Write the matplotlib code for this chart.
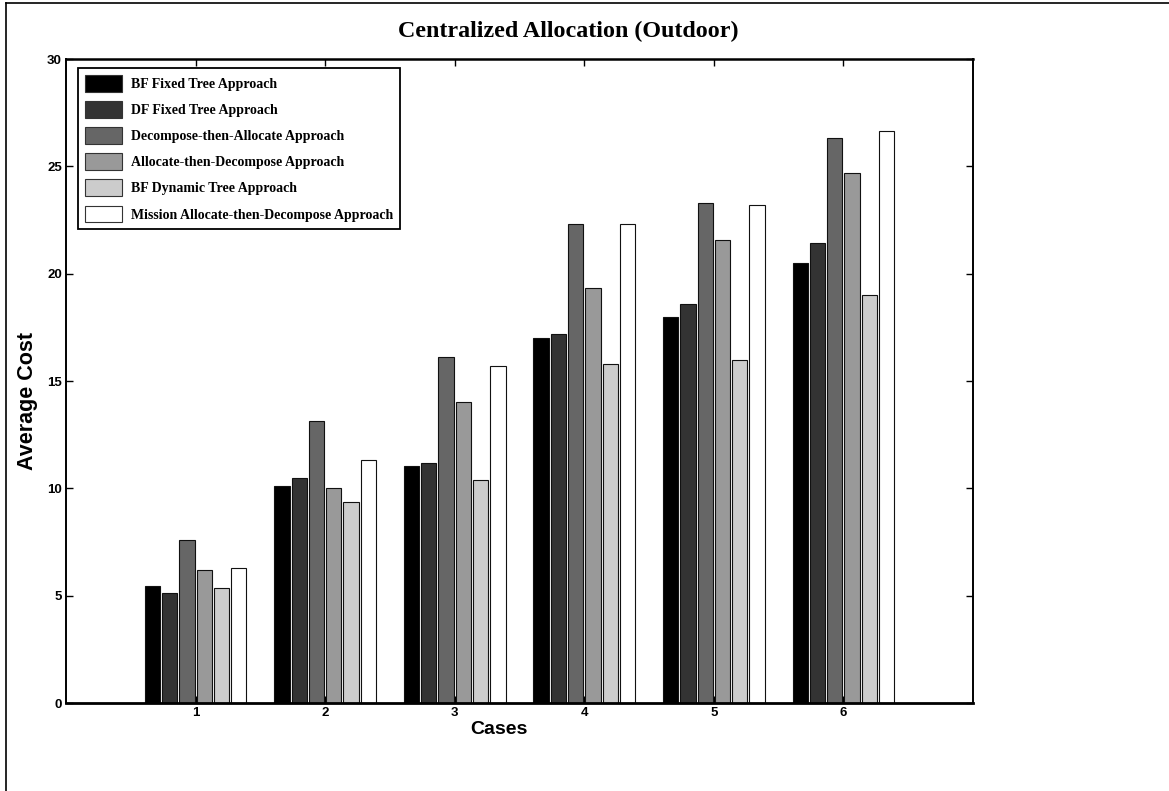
import matplotlib
matplotlib.use("Agg")
import matplotlib.pyplot as plt
import numpy as np
from matplotlib.lines import Line2D

cases = ["1", "2", "3", "4", "5", "6"]
series_names = [
    "BF Fixed Tree Approach",
    "DF Fixed Tree Approach",
    "Decompose-then-Allocate Approach",
    "Allocate-then-Decompose Approach",
    "BF Dynamic Tree Approach",
    "Mission Allocate-then-Decompose Approach",
]
bf_fixed = [5.45, 10.12, 11.02, 17.0, 18.0, 20.5]
df_fixed = [5.14, 10.5, 11.2, 17.2, 18.6, 21.45]
decomp_alloc = [7.59, 13.13, 16.1, 22.3, 23.3, 26.3]
alloc_decomp = [6.19, 10.0, 14.0, 19.35, 21.55, 24.7]
bf_dynamic = [5.36, 9.38, 10.4, 15.8, 16.0, 19.0]
mission_ad = [6.3, 11.3, 15.68, 22.3, 23.2, 26.65]
series_values = [bf_fixed, df_fixed, decomp_alloc, alloc_decomp, bf_dynamic, mission_ad]
colors = ["#000000", "#333333", "#666666", "#999999", "#cccccc", "#ffffff"]
yticks = [0, 5, 10, 15, 20, 25, 30]

W, H = 1169, 791
fig = plt.figure(figsize=(W / 100, H / 100), dpi=100)

def px_axes(l, t, r, b):
    return [l / W, 1 - b / H, (r - l) / W, (b - t) / H]

ax = fig.add_axes(px_axes(66, 59, 973, 703))
x = np.arange(1, len(cases) + 1)
n = len(series_values)
pitch = 0.8 / n
bw = 0.118
for i, (vals, c, name) in enumerate(zip(series_values, colors, series_names)):
    ax.bar(x + (i - (n - 1) / 2) * pitch, vals, width=bw, color=c,
           edgecolor="#111111", linewidth=0.8, label=name, zorder=2)

ax.set_xlim(0, 7)
ax.set_ylim(0, 30)
ax.set_xticks(x)
ax.set_xticklabels(cases)
ax.set_yticks(yticks)
ax.set_yticklabels([str(v) for v in yticks])
ax.tick_params(direction="in", length=5, width=1.0, top=True, right=True,
               labelsize=9.5, pad=3)
for lab in ax.get_xticklabels() + ax.get_yticklabels():
    lab.set_fontweight("bold")
    lab.set_fontfamily("Liberation Sans")
for sp in ax.spines.values():
    sp.set_linewidth(1.4)
ax.spines["bottom"].set_linewidth(2.0)
ax.spines["top"].set_linewidth(1.8)

leg = ax.legend(loc="upper left", bbox_to_anchor=(0.0132, 0.986),
                borderaxespad=0, frameon=True, fancybox=False,
                edgecolor="black", framealpha=1,
                prop={"family": "Liberation Serif", "weight": "bold", "size": 10},
                handlelength=2.7, handleheight=1.5, labelspacing=0.66,
                handletextpad=0.6, borderpad=0.5)
leg.get_frame().set_linewidth(1.3)
for p in leg.get_patches():
    p.set_edgecolor("#333333")

fig.text(568 / W, 1 - 31 / H, "Centralized Allocation (Outdoor)",
         ha="center", va="center", fontsize=17.3, fontweight="bold",
         family="Liberation Serif")
fig.text(499 / W, 1 - 729 / H, "Cases", ha="center", va="center",
         fontsize=14, fontweight="bold", family="Liberation Sans")
fig.text(28 / W, 1 - 401 / H, "Average Cost", ha="center", va="center",
         rotation=90, fontsize=15.5, fontweight="bold", family="Liberation Sans")

# figure frame (left and top edges)
fig.add_artist(Line2D([6 / W, 6 / W], [0, 1 - 3 / H], transform=fig.transFigure,
                      color="black", linewidth=1.2))
fig.add_artist(Line2D([6 / W, 1], [1 - 3 / H, 1 - 3 / H], transform=fig.transFigure,
                      color="black", linewidth=1.2))

fig.savefig("out.png", dpi=100)
